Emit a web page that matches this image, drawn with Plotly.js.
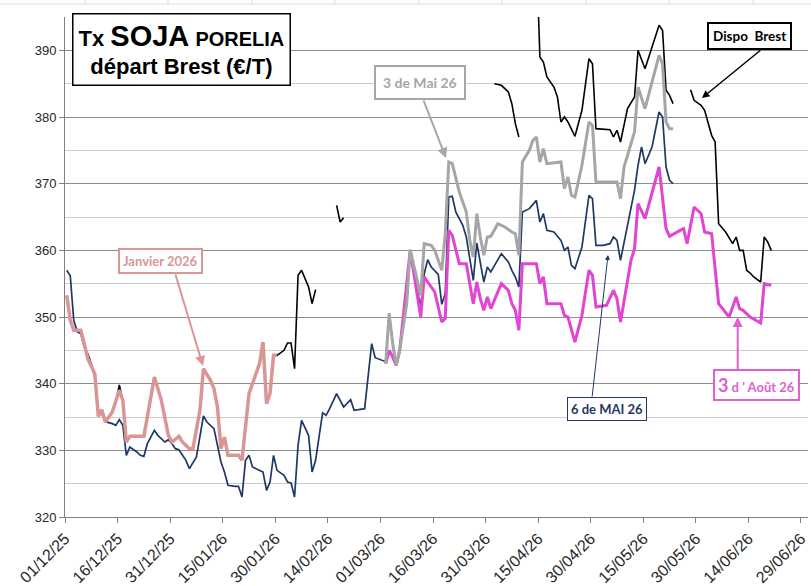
<!DOCTYPE html>
<html><head><meta charset="utf-8">
<script src="https://cdn.plot.ly/plotly-3.0.1.min.js"></script>
<style>html,body{margin:0;padding:0;background:#fff}#chart{width:811px;height:586px}</style>
</head><body><div id="chart"></div>
<script>
// ---- Data: "6 de MAI 26" (navy) ----
const navyDates = [
"2025-12-01","2025-12-02","2025-12-03","2025-12-04","2025-12-05","2025-12-06","2025-12-07","2025-12-08","2025-12-09","2025-12-10","2025-12-11","2025-12-12","2025-12-14","2025-12-15","2025-12-16","2025-12-17","2025-12-18","2025-12-19","2025-12-21","2025-12-22","2025-12-23","2025-12-24","2025-12-26","2025-12-27","2025-12-29","2025-12-30","2025-12-31",
"2026-01-01","2026-01-02","2026-01-04","2026-01-05","2026-01-07","2026-01-09","2026-01-10","2026-01-12","2026-01-13","2026-01-14","2026-01-15","2026-01-16","2026-01-18","2026-01-19","2026-01-20","2026-01-21","2026-01-22","2026-01-23","2026-01-24","2026-01-26","2026-01-27","2026-01-28","2026-01-29","2026-01-30",
"2026-02-01","2026-02-02","2026-02-03","2026-02-04","2026-02-05","2026-02-06","2026-02-08","2026-02-09","2026-02-10","2026-02-12","2026-02-13","2026-02-14","2026-02-16","2026-02-18","2026-02-20","2026-02-21","2026-02-24","2026-02-26","2026-02-27",
"2026-03-02","2026-03-03","2026-03-04","2026-03-05","2026-03-06","2026-03-08","2026-03-09","2026-03-11","2026-03-12","2026-03-13","2026-03-14","2026-03-15","2026-03-17","2026-03-18","2026-03-19","2026-03-20","2026-03-21","2026-03-22","2026-03-24","2026-03-25","2026-03-26","2026-03-27","2026-03-28","2026-03-29","2026-03-30","2026-03-31",
"2026-04-01","2026-04-04","2026-04-06","2026-04-07","2026-04-08","2026-04-09","2026-04-10","2026-04-12","2026-04-14","2026-04-15","2026-04-16","2026-04-17","2026-04-19","2026-04-21","2026-04-22","2026-04-23","2026-04-24","2026-04-25","2026-04-27","2026-04-29","2026-04-30",
"2026-05-01","2026-05-03","2026-05-05","2026-05-06","2026-05-07","2026-05-08","2026-05-12","2026-05-13","2026-05-14","2026-05-15","2026-05-17","2026-05-19","2026-05-20","2026-05-21","2026-05-22","2026-05-23"];
const navyVals = [
357,356.2,349.5,347.8,347.5,345.5,344.5,343,341,336,335.5,334.3,334,333.75,334.6,333.75,329.25,330.5,329.75,329.25,329.1,331,333,332.25,331.25,331.6,331,
330.25,330.1,328.5,327.25,329,335.15,334.25,333.25,330.5,328.25,326.75,324.75,324.6,324.6,323,328.5,329.25,327.5,327.25,326.75,324,325.25,329.25,327,
326.25,325.25,325.1,323,330.75,334.5,332.25,326.75,328.5,335.6,335.25,336.25,338.5,336.5,337.6,336,336.25,346,343.9,
343.3,350.5,346,342.75,345,352,360,354,351.5,356.5,358.6,357.5,356.4,351.9,353.5,368,368.1,365.75,363.75,362,358.5,355.5,361.1,358.25,355.25,357.5,
356.75,359.5,358.25,357,356,354.5,365.75,366.25,367.5,364.25,365.5,363,362.75,361.5,360,360.5,357.75,357.25,360.5,368.25,367.75,
360.75,360.75,361,362,361.5,358.5,369,372.75,375.5,373,375.5,380.75,380,372.5,370.5,370];

// ---- Data: "Janvier 2026" (pink) ----
const janDates = [
"2025-12-01","2025-12-02","2025-12-03","2025-12-04","2025-12-05","2025-12-06","2025-12-07","2025-12-09","2025-12-10","2025-12-11","2025-12-12","2025-12-14","2025-12-15","2025-12-16","2025-12-17","2025-12-18","2025-12-19","2025-12-23","2025-12-24","2025-12-26","2025-12-28","2025-12-29","2025-12-30","2025-12-31",
"2026-01-02","2026-01-03","2026-01-05","2026-01-06","2026-01-08","2026-01-09","2026-01-11","2026-01-12","2026-01-13","2026-01-14","2026-01-15","2026-01-16","2026-01-19","2026-01-20","2026-01-21","2026-01-22","2026-01-23","2026-01-25","2026-01-26","2026-01-27","2026-01-28","2026-01-29","2026-01-30"];
const janVals = [
353.25,349.5,348,348,348,346,343.75,341.5,335.1,336.1,334.25,335.75,337.25,339,337.5,331.25,332.1,332.1,335,341,337.5,335,332.25,331.25,
332.1,331.25,330.25,330.25,336,342.25,340.5,339.25,336.5,330.25,332,329.25,329.25,328.5,334,338.5,340,343,346.25,337,338.5,344.25,344.25];

// ---- Data: "3 de Mai 26" (grey) ----
const maiDates = [
"2026-03-02","2026-03-03","2026-03-04","2026-03-05","2026-03-06","2026-03-08","2026-03-09","2026-03-11","2026-03-12","2026-03-13","2026-03-15","2026-03-16","2026-03-18","2026-03-19","2026-03-20","2026-03-21","2026-03-22","2026-03-23","2026-03-25","2026-03-26","2026-03-27","2026-03-28","2026-03-29","2026-03-30","2026-03-31",
"2026-04-01","2026-04-03","2026-04-05","2026-04-07","2026-04-08","2026-04-09","2026-04-10","2026-04-12","2026-04-13","2026-04-14","2026-04-15","2026-04-16","2026-04-17","2026-04-21","2026-04-22","2026-04-23","2026-04-24","2026-04-25","2026-04-27","2026-04-29","2026-04-30",
"2026-05-01","2026-05-07","2026-05-08","2026-05-09","2026-05-12","2026-05-13","2026-05-15","2026-05-17","2026-05-19","2026-05-20","2026-05-21","2026-05-22","2026-05-23"];
const maiVals = [
343,350.5,346,342.75,345,352,360.1,355.5,353.25,361,360.75,360,357,362.5,373.25,373,371,368.75,365.75,361.5,359,365.5,362,359.25,362,
362.1,364,363.5,362.75,362.5,359.25,373.25,375,376.5,377,373.25,375.25,373,373.25,369.25,371,368.25,368,372.75,379.25,378.75,
370.25,370.25,367.75,372.5,377.75,384.5,381.25,385.25,389.25,388,379.25,378.25,378.25];

// ---- Data: "3 d'Août 26" (magenta) ----
const aoutDates = [
"2026-03-02","2026-03-03","2026-03-04","2026-03-05","2026-03-06","2026-03-09","2026-03-12","2026-03-13","2026-03-16","2026-03-18","2026-03-19","2026-03-20","2026-03-21","2026-03-22","2026-03-23","2026-03-25","2026-03-27","2026-03-28","2026-03-29","2026-03-30","2026-03-31",
"2026-04-01","2026-04-04","2026-04-06","2026-04-07","2026-04-08","2026-04-09","2026-04-10","2026-04-14","2026-04-15","2026-04-16","2026-04-17","2026-04-21","2026-04-22","2026-04-23","2026-04-25","2026-04-27","2026-04-29","2026-04-30",
"2026-05-01","2026-05-04","2026-05-06","2026-05-07","2026-05-08","2026-05-11","2026-05-12","2026-05-13","2026-05-15","2026-05-19","2026-05-21","2026-05-22","2026-05-25","2026-05-26","2026-05-27","2026-05-29","2026-05-31",
"2026-06-01","2026-06-03","2026-06-05","2026-06-08","2026-06-10","2026-06-11","2026-06-12","2026-06-14","2026-06-17","2026-06-18","2026-06-20"];
const aoutVals = [
343,345,344,342.75,345,360,350,356,353.75,349.25,349.75,363,362.25,360.25,358,358,352,355.25,352.75,351,353,
351.25,355,354,352,351,348,358,358,355,356,352,352,350.25,350,346.25,350.25,357,356.25,
351.5,351.75,354,352.75,349.25,358.5,360.25,367,364.75,372.5,363.25,362.1,363,363.25,361,366.5,365.5,
362.75,362.5,352,350,353,351.25,351,350,349.1,355,354.75];

// ---- Data: "Dispo Brest" (black), null = no quote ----
const dispoDates = [
"2025-12-14","2025-12-15","2025-12-16","2025-12-17","2025-12-18","2025-12-20",
"2026-01-29","2026-01-30","2026-02-01","2026-02-02","2026-02-03","2026-02-04","2026-02-05","2026-02-06","2026-02-08","2026-02-09","2026-02-10","2026-02-12",
"2026-02-16","2026-02-17","2026-02-18","2026-02-20",
"2026-04-02","2026-04-04","2026-04-06","2026-04-07","2026-04-08","2026-04-09","2026-04-11",
"2026-04-14","2026-04-15","2026-04-16","2026-04-17","2026-04-19","2026-04-20","2026-04-21","2026-04-22","2026-04-23","2026-04-25","2026-04-27","2026-04-29","2026-04-30","2026-05-01","2026-05-05","2026-05-06","2026-05-07","2026-05-08","2026-05-10","2026-05-12","2026-05-13","2026-05-15","2026-05-19","2026-05-20","2026-05-21","2026-05-22","2026-05-23","2026-05-25",
"2026-05-28","2026-05-29","2026-05-31","2026-06-01","2026-06-03","2026-06-04","2026-06-05","2026-06-07","2026-06-09","2026-06-10","2026-06-11","2026-06-12","2026-06-13","2026-06-14","2026-06-15","2026-06-17","2026-06-18","2026-06-19","2026-06-20"];
const dispoVals = [
335.75,337.25,339.8,337.5,331.25,null,
344.25,344.25,345,346.1,346.1,342.25,356.25,357,354.5,352,354.1,null,
366.75,364.25,364.9,null,
385,384.75,383.75,382,379,377,null,
405,389,388.25,386,384.5,383,379.25,380,379.25,377.1,381,388.75,388,378.25,378.1,377,378,376.25,381.25,383,390,387.25,393.75,393,384,383.25,382,null,
384.1,382.5,381.75,381,377.25,376.25,364,362.75,361,362,360,360,357,356.6,356,355.25,362,361.25,360];

// Excel plots each daily point in the middle of its day
const mid = d => d + " 12:00";

const traces = [
  {name:"Dispo Brest", x:dispoDates.map(mid), y:dispoVals, mode:"lines", line:{color:"#000000", width:1.6}, connectgaps:false},
  {name:"6 de MAI 26", x:navyDates.map(mid), y:navyVals, mode:"lines", line:{color:"#1F3864", width:1.7}},
  {name:"Janvier 2026", x:janDates.map(mid), y:janVals, mode:"lines", line:{color:"#D99694", width:3.5}},
  {name:"3 d'Août 26", x:aoutDates.map(mid), y:aoutVals, mode:"lines", line:{color:"#E244D4", width:3}},
  {name:"3 de Mai 26", x:maiDates.map(mid), y:maiVals, mode:"lines", line:{color:"#A6A6A6", width:3}}
];

// ---- layout helpers (pixel -> paper) ----
const L=65, T=17, PW=743, PH=500;
const X = p => (p - L) / PW;
const Y = p => (T + PH - p) / PH;

function box(text, cx, cy, color, size, bw, pad, fam){
  return {xref:"paper", yref:"paper", x:X(cx), y:Y(cy), xanchor:"center", yanchor:"middle",
    text:text, showarrow:false, font:{family:fam||"Lato, 'Open Sans', sans-serif", size:size, color:color},
    bgcolor:"#ffffff", bordercolor:color, borderwidth:bw, borderpad:pad};
}
function arrow(x0,y0,x1,y1,color,w){
  return {xref:"paper", yref:"paper", x:X(x1), y:Y(y1), ax:x0-x1, ay:y0-y1, axref:"pixel", ayref:"pixel",
    text:"", showarrow:true, arrowhead:2, arrowsize:1, arrowwidth:w, arrowcolor:color, standoff:0, startstandoff:0};
}

const annotations = [
  box('<b>Tx <span style="font-size:29px">SOJA</span> <span style="font-size:20px">PORELIA</span></b><br><b>départ Brest (€/T)</b>',
      181, 49.5, "#000000", 22, 1.5, 5, "'Liberation Sans', Arial, sans-serif"),
  arrow(423, 99, 446, 158, "#A6A6A6", 2),
  box("<b>3 de Mai 26</b>", 419.5, 82.5, "#A6A6A6", 14, 2, 7),
  arrow(175, 273, 203, 366, "#D99694", 2),
  box("<b>Janvier 2026</b>", 160.5, 261, "#D99694", 13, 2, 3),
  arrow(592, 398, 608, 255, "#1F3864", 1),
  box("<b>6 de MAI 26</b>", 607, 409, "#1F3864", 13, 1, 3),
  arrow(762, 49, 702, 98, "#000000", 1.5),
  box("<b>Dispo  Brest</b>", 749, 35.5, "#000000", 13.5, 2, 4),
  arrow(737.7, 373, 737.7, 317, "#E060D0", 2),
  {xref:"paper", yref:"paper", x:X(756), y:Y(385), xanchor:"center", yanchor:"middle", showarrow:false,
   text:'<b><span style="font-size:18px">3</span> d \' Août 26</b>',
   font:{family:"Lato, 'Open Sans', sans-serif", size:13, color:"#E060D0"},
   bgcolor:"#ffffff", bordercolor:"#E060D0", borderwidth:2, borderpad:3}
];

// faint spreadsheet cell borders visible around the chart
const shapes = [
  {type:"line", xref:"paper", yref:"paper", x0:X(0), x1:X(811), y0:Y(4), y1:Y(4), line:{color:"#dcdcdc", width:1}, layer:"below"}
];
[85,168,252,335,419,502,586,669,753].forEach(c => shapes.push(
  {type:"line", xref:"paper", yref:"paper", x0:X(c), x1:X(c), y0:Y(0), y1:Y(4), line:{color:"#dcdcdc", width:1}, layer:"below"}));

const layout = {
  width:811, height:586,
  margin:{l:L, r:811-L-PW, t:T, b:586-T-PH, pad:0},
  paper_bgcolor:"#ffffff", plot_bgcolor:"#ffffff",
  showlegend:false,
  font:{family:"'Liberation Sans', Arial, sans-serif", color:"#333333"},
  xaxis:{type:"date", range:["2025-12-01","2026-07-01"], tick0:"2025-12-01", dtick:15*86400000,
    tickformat:"%d/%m/%y", tickangle:-45, ticks:"outside", ticklen:5, tickcolor:"#7f7f7f",
    showline:true, linecolor:"#7f7f7f", linewidth:1, showgrid:false, zeroline:false,
    tickfont:{size:16, color:"#262626"}},
  yaxis:{range:[320,395], tick0:320, dtick:10, ticks:"outside", ticklen:5, tickcolor:"#7f7f7f",
    showline:true, linecolor:"#7f7f7f", linewidth:1, showgrid:true, gridcolor:"#8c8c8c", gridwidth:1,
    zeroline:false, tickfont:{size:13, color:"#262626"},
    minor:{dtick:5, tick0:320, showgrid:true, gridcolor:"#cccccc", gridwidth:1, ticks:""}},
  shapes:shapes,
  annotations:annotations
};

Plotly.newPlot("chart", traces, layout, {displayModeBar:false, staticPlot:true});
</script></body></html>
